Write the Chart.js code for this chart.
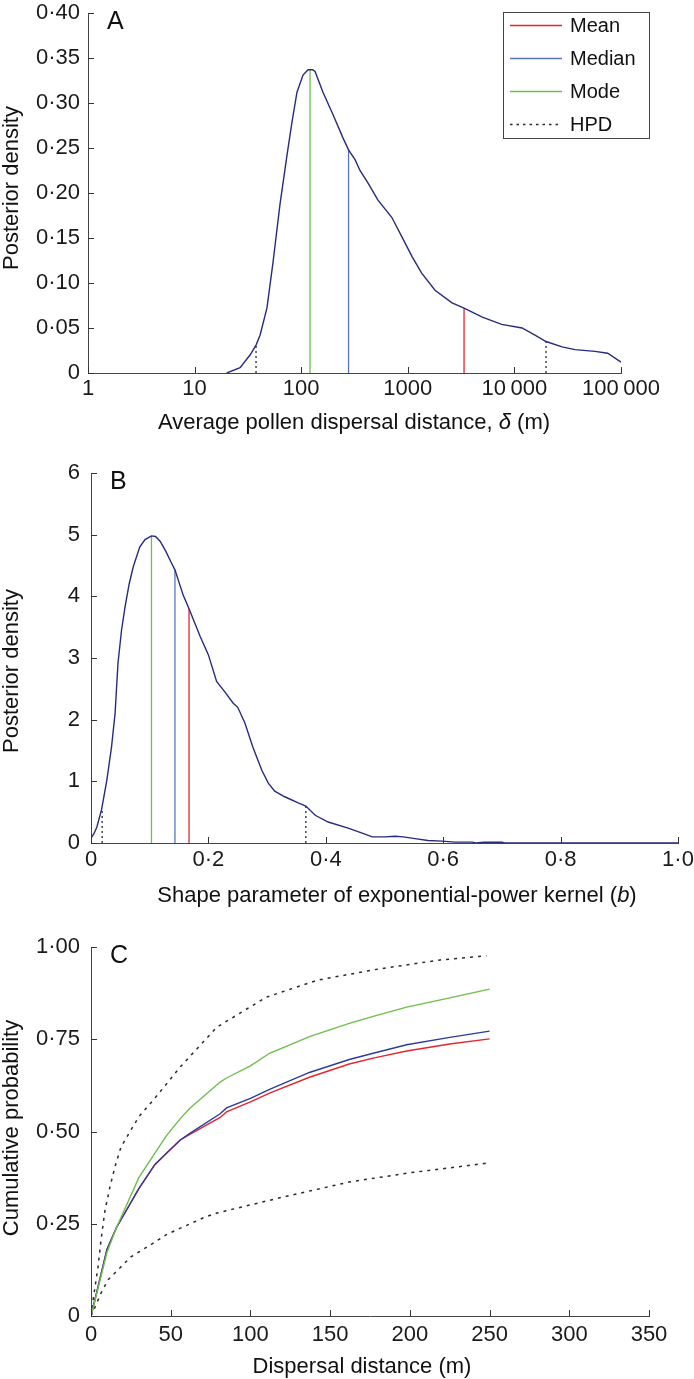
<!DOCTYPE html>
<html>
<head>
<meta charset="utf-8">
<title>Posterior densities of pollen dispersal parameters</title>
<script src="https://cdn.jsdelivr.net/npm/chart.js@4.4.1/dist/chart.umd.min.js"></script>
<style>
  html, body { margin:0; padding:0; background:#fff; }
  body { width:694px; height:1379px; position:relative; overflow:hidden; }
  canvas { position:absolute; left:0; display:block; }
</style>
</head>
<body>
<canvas id="chartA" width="694" height="445" style="top:0px"></canvas>
<canvas id="chartB" width="694" height="465" style="top:445px"></canvas>
<canvas id="chartC" width="694" height="469" style="top:910px"></canvas>
<script>
// ---------------- Panel A: average pollen dispersal distance ----------------
const aDistance = [20, 26.7, 33.1, 37.7, 41.1, 47.7, 54.4, 63.2, 73.6, 82, 91.3, 104, 116, 121, 128, 135, 160, 199, 247, 278, 320, 356, 424, 525, 707, 883, 1100, 1350, 1800, 2600, 3370, 5000, 7600, 11800, 15600, 19800, 28000, 37000, 57000, 75000, 100000];
const aDensity  = [0, 0.006, 0.02, 0.031, 0.042, 0.072, 0.123, 0.187, 0.242, 0.279, 0.312, 0.331, 0.337, 0.337, 0.337, 0.335, 0.312, 0.287, 0.261, 0.248, 0.237, 0.225, 0.211, 0.192, 0.173, 0.151, 0.129, 0.111, 0.092, 0.078, 0.072, 0.062, 0.054, 0.05, 0.042, 0.035, 0.029, 0.026, 0.024, 0.022, 0.012];
const aStatX    = [3370, 278, 121];          // mean, median, mode
const aStatTop  = [0.072, 0.248, 0.337];
const aHpdX     = [37.7, 19800];
const aHpdTop   = [0.031, 0.035];
const aXTicks   = [1, 10, 100, 1000, 10000, 100000];
const aXLabels  = ['1', '10', '100', '1000', '10\u2009000', '100\u2009000'];
const aYTicks   = [0, 0.05, 0.10, 0.15, 0.20, 0.25, 0.30, 0.35, 0.40];
const aYLabels  = ['0', '0·05', '0·10', '0·15', '0·20', '0·25', '0·30', '0·35', '0·40'];

// ---------------- Panel B: shape parameter b ----------------
const bShape   = [0, 0.005, 0.01, 0.018, 0.027, 0.035, 0.041, 0.046, 0.052, 0.058, 0.065, 0.072, 0.083, 0.092, 0.103, 0.11, 0.118, 0.128, 0.136, 0.143, 0.157, 0.167, 0.186, 0.2, 0.214, 0.228, 0.242, 0.25, 0.262, 0.276, 0.291, 0.302, 0.313, 0.33, 0.353, 0.366, 0.382, 0.404, 0.438, 0.462, 0.479, 0.501, 0.518, 0.532, 0.552, 0.574, 0.598, 0.62, 0.65, 0.655, 0.67, 0.7, 0.705, 1.0];
const bDensity = [0.08, 0.15, 0.26, 0.54, 1.02, 1.56, 2.1, 2.92, 3.45, 3.83, 4.2, 4.48, 4.8, 4.92, 4.98, 4.97, 4.89, 4.72, 4.56, 4.43, 4.02, 3.8, 3.35, 3.05, 2.62, 2.45, 2.27, 2.2, 1.95, 1.55, 1.18, 0.97, 0.84, 0.75, 0.65, 0.6, 0.45, 0.34, 0.24, 0.16, 0.1, 0.1, 0.11, 0.1, 0.07, 0.04, 0.03, 0.015, 0.015, 0, 0.012, 0.012, 0, 0];
const bStatX   = [0.167, 0.143, 0.103];      // mean, median, mode
const bStatTop = [3.8, 4.43, 4.98];
const bHpdX    = [0.019, 0.366];
const bHpdTop  = [0.56, 0.6];
const bXTicks  = [0, 0.2, 0.4, 0.6, 0.8, 1.0];
const bXLabels = ['0', '0·2', '0·4', '0·6', '0·8', '1·0'];
const bYTicks  = [0, 1, 2, 3, 4, 5, 6];
const bYLabels = ['0', '1', '2', '3', '4', '5', '6'];

// ---------------- Panel C: cumulative dispersal probability ----------------
const cDistance = [0, 5, 10, 16, 30, 40, 47, 56, 62, 81, 85, 100, 112, 137, 162, 177, 198, 225, 250];
const cMode     = [0, 0.085, 0.172, 0.24, 0.375, 0.441, 0.487, 0.535, 0.563, 0.634, 0.645, 0.678, 0.712, 0.757, 0.793, 0.812, 0.837, 0.862, 0.886];
const cMedian   = [0, 0.09, 0.18, 0.24, 0.345, 0.41, 0.44, 0.477, 0.495, 0.548, 0.564, 0.59, 0.614, 0.66, 0.695, 0.712, 0.735, 0.755, 0.772];
const cMean     = [0, 0.09, 0.18, 0.24, 0.345, 0.41, 0.44, 0.477, 0.492, 0.538, 0.553, 0.58, 0.604, 0.647, 0.683, 0.699, 0.718, 0.737, 0.751];
const cHpdUpperDist = [0, 1.3, 4.4, 6.3, 8.8, 11.9, 15, 18.8, 24.5, 30, 40, 56, 79, 110, 142, 177, 219, 248];
const cHpdUpper     = [0, 0.043, 0.133, 0.206, 0.287, 0.35, 0.404, 0.458, 0.5, 0.54, 0.59, 0.675, 0.783, 0.864, 0.91, 0.938, 0.965, 0.976];
const cHpdLowerDist = [0, 2.5, 6.3, 10.7, 16.9, 25, 40, 47, 56, 71.5, 79, 120, 162, 198, 248];
const cHpdLower     = [0, 0.024, 0.062, 0.098, 0.125, 0.16, 0.2, 0.22, 0.238, 0.268, 0.279, 0.322, 0.363, 0.387, 0.414];
const cXTicks  = [0, 50, 100, 150, 200, 250, 300, 350];
const cXLabels = ['0', '50', '100', '150', '200', '250', '300', '350'];
const cYTicks  = [0, 0.25, 0.5, 0.75, 1.0];
const cYLabels = ['0', '0·25', '0·50', '0·75', '1·00'];

const legendLabels = ['Mean', 'Median', 'Mode', 'HPD'];

// ---------------- styling ----------------
const FONT = "'Liberation Sans', Arial, Helvetica, sans-serif";
const NAVY = '#272b7e', RED = '#e3262e', BLUE_AB = '#5877b8', GREEN = '#6cbf4c', DOT = '#2a2a2a', BLUE_C = '#2c3c9c';
const HPD_DASH = [2, 3];
Chart.defaults.font.family = FONT;
Chart.defaults.font.size = 22;
Chart.defaults.color = '#1a1a1a';
Chart.defaults.animation = false;

const pts = (xs, ys) => xs.map((x, i) => ({x: x, y: ys[i]}));
const line = (data, color, width, dash) => ({
  data: data, borderColor: color, backgroundColor: color, borderWidth: width,
  borderDash: dash || [], showLine: true, pointRadius: 0, pointHoverRadius: 0, tension: 0, fill: false
});
const vline = (x, top, color, dash) => line([{x: x, y: 0}, {x: x, y: top}], color, 1.3, dash);

function axis(type, min, max, tickVals, tickLabels, pad, fit) {
  return {
    type: type, min: min, max: max,
    grid: {display: false, drawTicks: false},
    border: {display: true, color: '#444', width: 1},
    ticks: {autoSkip: false, maxRotation: 0, minRotation: 0, padding: pad, color: '#1a1a1a',
            font: {size: 22}, callback: (v, i) => tickLabels[i]},
    afterBuildTicks: s => { s.ticks = tickVals.map(v => ({value: v})); },
    afterFit: fit
  };
}
const fitY = w => s => { s.width = w; s.paddingTop = 0; s.paddingBottom = 0; };
const fitX = h => s => { s.height = h; s.paddingLeft = 0; s.paddingRight = 0; };

function drawSegments(ctx, segs, cx, cy, size) {
  const fonts = segs.map(s => (s.i ? 'italic ' : '') + size + 'px ' + FONT);
  let total = 0;
  const widths = segs.map((s, k) => { ctx.font = fonts[k]; const w = ctx.measureText(s.t).width; total += w; return w; });
  let x = cx - total / 2;
  ctx.textAlign = 'left'; ctx.textBaseline = 'middle';
  segs.forEach((s, k) => { ctx.font = fonts[k]; ctx.fillText(s.t, x, cy); x += widths[k]; });
}

const deco = {
  id: 'deco',
  afterDraw(chart, args, o) {
    const ctx = chart.ctx, a = chart.chartArea, x = chart.scales.x, y = chart.scales.y;
    ctx.save();
    // inward tick marks
    ctx.strokeStyle = '#333'; ctx.lineWidth = 1; ctx.setLineDash([]);
    ctx.beginPath();
    x.ticks.forEach(t => { const px = Math.round(x.getPixelForValue(t.value)) + 0.5; ctx.moveTo(px, a.bottom); ctx.lineTo(px, a.bottom - 6); });
    y.ticks.forEach(t => { const py = Math.round(y.getPixelForValue(t.value)) + 0.5; ctx.moveTo(a.left, py); ctx.lineTo(a.left + 6, py); });
    ctx.stroke();
    // panel letter
    ctx.fillStyle = '#111';
    ctx.font = '25px ' + FONT; ctx.textAlign = 'left'; ctx.textBaseline = 'alphabetic';
    ctx.fillText(o.letter, a.left + 19, a.top + 16);
    // axis titles
    drawSegments(ctx, o.xTitle.segs, o.xTitle.x, o.xTitle.y, 22);
    ctx.save();
    ctx.translate(o.yTitle.x, o.yTitle.y); ctx.rotate(-Math.PI / 2);
    drawSegments(ctx, o.yTitle.segs, 0, 0, 22);
    ctx.restore();
    // legend box
    if (o.legend) {
      const L = o.legend, bx = Math.round(a.left + L.dx), by = Math.round(a.top + L.dy);
      ctx.fillStyle = '#fff'; ctx.fillRect(bx, by, L.w, L.h);
      ctx.strokeStyle = '#444'; ctx.lineWidth = 1; ctx.strokeRect(bx + 0.5, by + 0.5, L.w, L.h);
      ctx.font = '20px ' + FONT; ctx.textBaseline = 'middle'; ctx.textAlign = 'left';
      L.items.forEach((it, i) => {
        const yy = by + 13 + i * 33 + 0.5;
        ctx.strokeStyle = it.color; ctx.lineWidth = 1.3; ctx.setLineDash(it.dash || []);
        ctx.beginPath(); ctx.moveTo(bx + 7, yy); ctx.lineTo(bx + 59, yy); ctx.stroke();
        ctx.setLineDash([]);
        ctx.fillStyle = '#111'; ctx.fillText(it.label, bx + 67, yy + 1);
      });
    }
    ctx.restore();
  }
};

const baseOpts = (pad, scales, decoOpts) => ({
  responsive: false, animation: false, events: [],
  layout: {padding: pad},
  plugins: {legend: {display: false}, tooltip: {enabled: false}, deco: decoOpts},
  scales: scales
});

// ---------------- Chart A ----------------
new Chart(document.getElementById('chartA'), {
  type: 'scatter',
  data: {datasets: [
    line(pts(aDistance, aDensity), NAVY, 1.4),
    vline(aStatX[0], aStatTop[0], RED),
    vline(aStatX[1], aStatTop[1], BLUE_AB),
    vline(aStatX[2], aStatTop[2], GREEN),
    vline(aHpdX[0], aHpdTop[0], DOT, HPD_DASH),
    vline(aHpdX[1], aHpdTop[1], DOT, HPD_DASH)
  ]},
  options: baseOpts({top: 13, right: 73, bottom: 0, left: 0}, {
    x: axis('logarithmic', 1, 100000, aXTicks, aXLabels, 3, fitX(72)),
    y: axis('linear', 0, 0.4, aYTicks, aYLabels, 8, fitY(88))
  }, {
    letter: 'A',
    xTitle: {segs: [{t: 'Average pollen dispersal distance, '}, {t: 'δ', i: true}, {t: ' (m)'}], x: 354, y: 423},
    yTitle: {segs: [{t: 'Posterior density'}], x: 12, y: 188},
    legend: {dx: 415, dy: -1, w: 146, h: 126, items: [
      {label: legendLabels[0], color: RED},
      {label: legendLabels[1], color: BLUE_AB},
      {label: legendLabels[2], color: GREEN},
      {label: legendLabels[3], color: DOT, dash: [2.5, 4]}
    ]}
  }),
  plugins: [deco]
});

// ---------------- Chart B ----------------
new Chart(document.getElementById('chartB'), {
  type: 'scatter',
  data: {datasets: [
    line(pts(bShape, bDensity), NAVY, 1.4),
    vline(bStatX[0], bStatTop[0], RED),
    vline(bStatX[1], bStatTop[1], BLUE_AB),
    vline(bStatX[2], bStatTop[2], GREEN),
    vline(bHpdX[0], bHpdTop[0], DOT, HPD_DASH),
    vline(bHpdX[1], bHpdTop[1], DOT, HPD_DASH)
  ]},
  options: baseOpts({top: 28, right: 16, bottom: 0, left: 0}, {
    x: axis('linear', 0, 1, bXTicks, bXLabels, 4, fitX(67)),
    y: axis('linear', 0, 6, bYTicks, bYLabels, 11, fitY(91))
  }, {
    letter: 'B',
    xTitle: {segs: [{t: 'Shape parameter of exponential-power kernel ('}, {t: 'b', i: true}, {t: ')'}], x: 397, y: 451},
    yTitle: {segs: [{t: 'Posterior density'}], x: 12, y: 226}
  }),
  plugins: [deco]
});

// ---------------- Chart C ----------------
new Chart(document.getElementById('chartC'), {
  type: 'scatter',
  data: {datasets: [
    line(pts(cDistance, cMode), GREEN, 1.4),
    line(pts(cDistance, cMedian), BLUE_C, 1.4),
    line(pts(cDistance, cMean), RED, 1.4),
    line(pts(cHpdUpperDist, cHpdUpper), DOT, 1.5, [3, 5]),
    line(pts(cHpdLowerDist, cHpdLower), DOT, 1.5, [3, 5])
  ]},
  options: baseOpts({top: 37, right: 45, bottom: 0, left: 0}, {
    x: axis('linear', 0, 350, cXTicks, cXLabels, 6, fitX(63)),
    y: axis('linear', 0, 1, cYTicks, cYLabels, 11, fitY(91))
  }, {
    letter: 'C',
    xTitle: {segs: [{t: 'Dispersal distance (m)'}], x: 362, y: 457},
    yTitle: {segs: [{t: 'Cumulative probability'}], x: 12, y: 218}
  }),
  plugins: [deco]
});
</script>
</body>
</html>
